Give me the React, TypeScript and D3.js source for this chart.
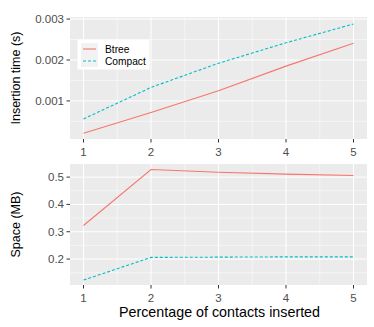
import React from 'react';
import * as d3 from 'd3';

// percentages of contacts inserted
const percents = [1, 2, 3, 4, 5];
const btreeTime = [0.00021, 0.000715, 0.00125, 0.00185, 0.00241];
const compactTime = [0.00056, 0.00133, 0.00192, 0.00242, 0.00288];
const btreeSpace = [0.323, 0.528, 0.518, 0.511, 0.506];
const compactSpace = [0.123, 0.206, 0.207, 0.208, 0.208];
const timeTicks = [0.001, 0.002, 0.003];
const spaceTicks = [0.2, 0.3, 0.4, 0.5];

const W = 374;
const H = 327;
const left = 70;
const right = 367;
const font = '"Liberation Sans", Arial, sans-serif';
const tickColor = '#4d4d4d';

const series = [
  { name: 'Btree', color: '#F8766D', dash: undefined },
  { name: 'Compact', color: '#00BFC4', dash: '3,2' },
];

function Panel({ top, bottom, domain, ticks, minor, fmt, values, title }) {
  const x = d3.scaleLinear().domain([0.8, 5.2]).range([left, right]);
  const y = d3.scaleLinear().domain(domain).range([bottom, top]);
  const line = d3.line<number>().x((d, i) => x(percents[i])).y(d => y(d));
  const xMinor = [1.5, 2.5, 3.5, 4.5];
  return (
    <g>
      <rect x={left} y={top} width={right - left} height={bottom - top} fill="#ebebeb" />
      {minor.map(v => (
        <line key={'ym' + v} x1={left} x2={right} y1={y(v)} y2={y(v)} stroke="#fff" strokeWidth={0.5} />
      ))}
      {xMinor.map(v => (
        <line key={'xm' + v} x1={x(v)} x2={x(v)} y1={top} y2={bottom} stroke="#fff" strokeWidth={0.5} />
      ))}
      {ticks.map(v => (
        <line key={'y' + v} x1={left} x2={right} y1={y(v)} y2={y(v)} stroke="#fff" strokeWidth={1} />
      ))}
      {percents.map(v => (
        <line key={'x' + v} x1={x(v)} x2={x(v)} y1={top} y2={bottom} stroke="#fff" strokeWidth={1} />
      ))}
      {values.map((vals, k) => (
        <path key={k} d={line(vals)} fill="none" stroke={series[k].color} strokeWidth={1.1}
          strokeDasharray={series[k].dash} />
      ))}
      {ticks.map(v => (
        <g key={'yt' + v}>
          <line x1={left - 3.5} x2={left} y1={y(v)} y2={y(v)} stroke="#333" strokeWidth={1} />
          <text x={left - 6} y={y(v)} dy="0.35em" textAnchor="end" fontSize={11.5} fill={tickColor}
            fontFamily={font}>{fmt(v)}</text>
        </g>
      ))}
      {percents.map(v => (
        <g key={'xt' + v}>
          <line x1={x(v)} x2={x(v)} y1={bottom} y2={bottom + 3.5} stroke="#333" strokeWidth={1} />
          <text x={x(v)} y={bottom + 16.5} textAnchor="middle" fontSize={11.5} fill={tickColor}
            fontFamily={font}>{v}</text>
        </g>
      ))}
      <text transform={`translate(20, ${(top + bottom) / 2}) rotate(-90)`} textAnchor="middle"
        fontSize={12.5} fill="#000" fontFamily={font}>{title}</text>
    </g>
  );
}

export default function App() {
  return (
    <svg width={W} height={H} style={{ position: 'absolute', left: 0, top: 0, background: '#fff' }}>
      <Panel top={17} bottom={139} domain={[0.00007, 0.00305]} ticks={timeTicks}
        minor={[0.0005, 0.0015, 0.0025]} fmt={d3.format('.3f')}
        values={[btreeTime, compactTime]} title="Insertion time (s)" />
      <Panel top={164} bottom={285} domain={[0.105, 0.548]} ticks={spaceTicks}
        minor={[0.15, 0.25, 0.35, 0.45]} fmt={d3.format('.1f')}
        values={[btreeSpace, compactSpace]} title="Space (MB)" />
      <text x={(left + right) / 2 + 1} y={317} textAnchor="middle" fontSize={14.3} fill="#000"
        fontFamily={font}>Percentage of contacts inserted</text>
      <g transform="translate(78, 40)">
        <rect x={0} y={0} width={71} height={29} fill="#fff" stroke="#fff" />
        {series.map((s, i) => (
          <g key={s.name} transform={`translate(3, ${3 + i * 12})`}>
            <rect x={0} y={0} width={17} height={12} fill="#f2f2f2" />
            <line x1={2} x2={15} y1={6} y2={6} stroke={s.color} strokeWidth={1.1} strokeDasharray={s.dash} />
            <text x={24} y={6} dy="0.35em" fontSize={10.2} fill="#000" fontFamily={font}>{s.name}</text>
          </g>
        ))}
      </g>
    </svg>
  );
}
